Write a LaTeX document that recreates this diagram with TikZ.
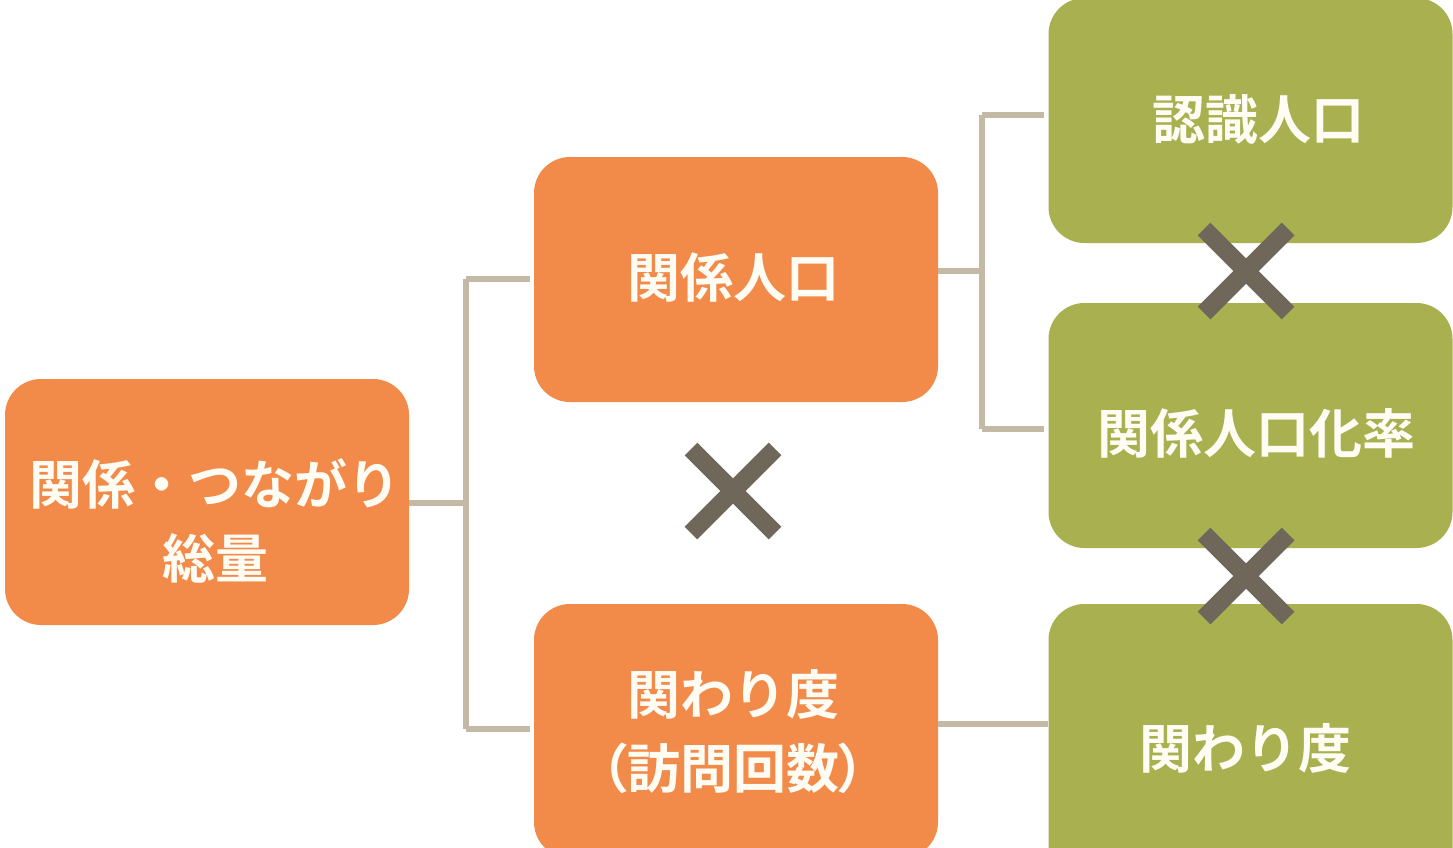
\documentclass[tikz,border=0pt]{standalone}
\usepackage{fontspec}
\setmainfont{Noto Sans CJK JP}[UprightFont=* Bold]
\newfontfamily\jpp{Noto Sans CJK JP}[UprightFont=* Bold,RawFeature=+palt]
\definecolor{orangebox}{HTML}{F28A4A}
\definecolor{greenbox}{HTML}{A8B04F}
\definecolor{connc}{HTML}{C4B9A4}
\definecolor{crossc}{HTML}{6F685A}
\definecolor{txtc}{HTML}{FFFCF4}
\tikzset{
  box/.style={rounded corners=36pt, minimum width=404pt, inner sep=0pt},
  obox/.style={box, fill=orangebox},
  gbox/.style={box, fill=greenbox},
  lbl/.style={text=txtc, inner sep=0pt, align=center,
    font=\fontsize{53pt}{74pt}\selectfont},
  conn/.style={draw=connc, line width=6pt},
  crossbar/.style={draw=crossc, line width=18pt}
}
\newcommand{\crossmark}[3]{%
  \coordinate (#1) at (#2,#3);
  \draw[crossbar] ($(#1)+(-42,-42)$) -- ($(#1)+(42,42)$);
  \draw[crossbar] ($(#1)+(-42,42)$) -- ($(#1)+(42,-42)$);
}
\usetikzlibrary{calc}
\begin{document}
\begin{tikzpicture}[x=1pt,y=-1pt]
\useasboundingbox (0,0) rectangle (1453,847);
\fill[white] (0,0) rectangle (1453,847);
\clip (0,0) rectangle (1453,847);

% boxes
\node[obox, minimum height=246pt] (L) at (207,502) {};
\node[obox, minimum height=245pt] (M1) at (736,279.5) {};
\node[obox, minimum height=254pt] (M2) at (736,731) {};
\node[gbox, minimum height=245pt] (G1) at (1250.5,120.5) {};
\node[gbox, minimum height=245pt] (G2) at (1250.5,425.5) {};
\node[gbox, minimum height=288pt] (G3) at (1250.5,748) {};

% labels
\node[lbl] (Lt) at (215,521) {関係・つながり\\総量};
\node[lbl] (M1t) at (733,277) {関係人口};
\node[lbl] (M2t) at (733,731.5) {関わり度\\{\jpp （訪問回数）}};
\node[lbl] (G1t) at (1258,119) {認識人口};
\node[lbl] (G2t) at (1256,433) {関係人口化率};
\node[lbl] (G3t) at (1245,748) {関わり度};

% connectors
\coordinate (j1) at (466,503);
\coordinate (j1t) at (466,279);
\coordinate (j1b) at (466,729);
\draw[conn] (L.east |- j1) -- (j1);
\draw[conn] (j1t) -- (j1b);
\draw[conn, shorten >=4pt] (j1t) -- (M1.west |- j1t);
\draw[conn, shorten >=4pt] (j1b) -- (M2.west |- j1b);

\coordinate (j2) at (982,271);
\coordinate (j2t) at (982,115);
\coordinate (j2b) at (982,429);
\draw[conn] (M1.east |- j2) -- (j2);
\draw[conn] (j2t) -- (j2b);
\draw[conn, shorten >=4pt] (j2t) -- (G1.west |- j2t);
\draw[conn, shorten >=4pt] (j2b) -- (G2.west |- j2b);

\coordinate (j3) at (990,724);
\draw[conn] (M2.east |- j3) -- (G3.west |- j3);

% cross marks
\crossmark{x1}{733}{491}
\crossmark{x2}{1246}{271}
\crossmark{x3}{1246}{576}
\end{tikzpicture}
\end{document}
